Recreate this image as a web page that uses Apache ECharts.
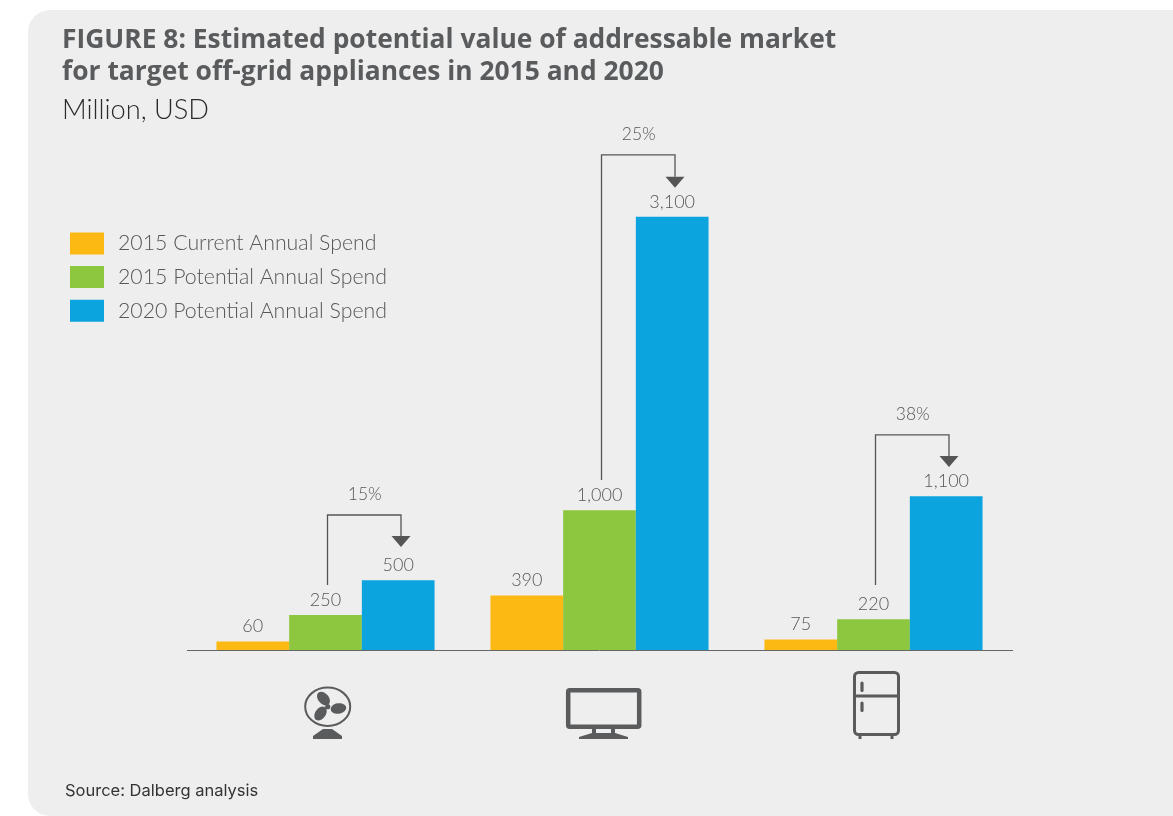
<!DOCTYPE html>
<html><head><meta charset="utf-8">
<style>html,body{margin:0;padding:0;background:#fff}#c{width:1173px;height:816px}</style>
<script src="https://cdn.jsdelivr.net/npm/echarts@6/dist/echarts.min.js"></script>
</head><body><div id="c"></div>
<script>
var categories = ['Fan', 'Television', 'Refrigerator'];
var current2015 = [60, 390, 75];
var potential2015 = [250, 1000, 220];
var potential2020 = [500, 3100, 1100];
var growthLabels = ['15%', '25%', '38%'];
var stemValues = [465, 1217, 465];
var bracketTopValues = [966, 3543, 1539];
var arrowTipValues = [737, 3307, 1310];
var seriesNames = ['2015 Current Annual Spend', '2015 Potential Annual Spend', '2020 Potential Annual Spend'];
var colors = ['#fdb913', '#8dc63f', '#0ca4de'];
var INK = '#5a5b5d';
var FONT = 'Lato';
var LABEL = '#575757';

function bar(name, data, color) {
  return {
    name: name, type: 'bar', data: data, barWidth: 72.7, barGap: 0, itemStyle: {color: color},
    label: {show: true, position: 'top', distance: 6, color: LABEL, fontFamily: FONT, fontWeight: 300, fontSize: 18,
      formatter: function (p) { return p.value.toLocaleString('en-US'); }}
  };
}
function renderBracket(params, api) {
  var i = api.value(0);
  var cx = api.coord([i, 0])[0];
  var stem = api.coord([i, api.value(1)])[1];
  var top = api.coord([i, api.value(2)])[1];
  var tip = api.coord([i, api.value(3)])[1];
  var arrowTop = tip - 11;
  var l = cx + 2, r = cx + 75.5;
  var st = {stroke: '#555', lineWidth: 1.3, fill: null};
  return {type: 'group', silent: true, children: [
    {type: 'polyline', shape: {points: [[l, stem], [l, top], [r, top], [r, arrowTop]]}, style: st},
    {type: 'polygon', shape: {points: [[r - 9.5, arrowTop], [r + 9.5, arrowTop], [r, tip]]}, style: {fill: '#555'}},
    {type: 'text', x: (l + r) / 2 + 0.5, y: top - 21, style: {text: growthLabels[i], fill: LABEL, font: '300 17.5px ' + FONT, align: 'center', verticalAlign: 'middle'}}
  ]};
}
function line(x1, y1, x2, y2, w) {
  return {type: 'line', shape: {x1: x1, y1: y1, x2: x2, y2: y2}, style: {stroke: INK, lineWidth: w, lineCap: 'round'}};
}
function blade(x, y, rot) {
  return {type: 'ellipse', x: x, y: y, rotation: rot, shape: {cx: 0, cy: 0, rx: 7.8, ry: 5.2}, style: {fill: INK}};
}
var fan = [
  {type: 'ellipse', shape: {cx: 327.7, cy: 706.7, rx: 22.5, ry: 19.2}, style: {fill: null, stroke: INK, lineWidth: 2}},
  blade(323.5, 698.5, -0.85), blade(338.5, 708.5, 0.15), blade(320.5, 713.5, 0.95),
  {type: 'circle', shape: {cx: 327.7, cy: 706.7, r: 2.6}, style: {fill: INK}},
  {type: 'polygon', shape: {points: [[323, 729], [332, 729], [342, 736], [342, 739], [313, 739], [313, 736]]}, style: {fill: INK}}
];
var tv = [
  {type: 'rect', shape: {x: 568.2, y: 690.2, width: 71, height: 36.5, r: 1.5}, style: {fill: null, stroke: INK, lineWidth: 4.5}},
  {type: 'rect', shape: {x: 592, y: 729, width: 4, height: 5}, style: {fill: INK}},
  {type: 'rect', shape: {x: 611, y: 729, width: 4, height: 5}, style: {fill: INK}},
  {type: 'polygon', shape: {points: [[592, 733], [615, 733], [628, 737], [628, 739], [579, 739], [579, 737]]}, style: {fill: INK}}
];
var fridge = [
  {type: 'rect', shape: {x: 854.5, y: 672.5, width: 44, height: 62, r: 4}, style: {fill: null, stroke: INK, lineWidth: 3}},
  line(855, 696, 898, 696, 3),
  line(862, 683, 862, 690.5, 3.2), line(862, 703, 862, 710.5, 3.2),
  {type: 'rect', shape: {x: 858.5, y: 735, width: 3, height: 4}, style: {fill: INK}},
  {type: 'rect', shape: {x: 890.5, y: 735, width: 3, height: 4}, style: {fill: INK}}
];
function text(x, y, s, font, fill) {
  return {type: 'text', x: x, y: y, style: {text: s, font: font, fill: fill, verticalAlign: 'middle'}};
}
var chart = echarts.init(document.getElementById('c'), null, {renderer: 'canvas'});
chart.setOption({
  animation: false,
  backgroundColor: '#ffffff',
  grid: {left: 188.5, width: 822, top: 91, height: 559},
  legend: {
    left: 70, top: 232.5, padding: 0, orient: 'vertical', itemWidth: 34, itemHeight: 22, itemGap: 11.6,
    icon: 'rect', selectedMode: false, data: seriesNames,
    textStyle: {color: LABEL, fontFamily: FONT, fontWeight: 300, fontSize: 21.3, padding: [0, 0, 0, 9]}
  },
  xAxis: {type: 'category', data: categories, axisTick: {show: false}, axisLabel: {show: false},
    axisLine: {lineStyle: {color: '#666', width: 1}}},
  yAxis: {type: 'value', min: 0, max: 4000, show: false, splitLine: {show: false}},
  graphic: [
    {type: 'rect', z: -10, shape: {x: 28, y: 10, width: 1200, height: 806, r: 22}, style: {fill: '#eeeeee'}},
    text(62, 40, 'FIGURE 8: Estimated potential value of addressable market', 'bold 26.4px "Open Sans"', INK),
    text(62, 72, 'for target off-grid appliances in 2015 and 2020', 'bold 26.4px "Open Sans"', INK),
    text(62, 110.5, 'Million, USD', '300 27.2px ' + FONT, '#2b2b2b'),
    text(65, 791, 'Source: Dalberg analysis', '16.5px Inter', '#333'),
    {type: 'line', shape: {x1: 1010, y1: 650.5, x2: 1013, y2: 650.5}, style: {stroke: '#666', lineWidth: 1}},
    {type: 'line', shape: {x1: 187, y1: 650.5, x2: 189, y2: 650.5}, style: {stroke: '#666', lineWidth: 1}},
    {type: 'group', children: fan}, {type: 'group', children: tv}, {type: 'group', children: fridge}
  ],
  series: [
    bar(seriesNames[0], current2015, colors[0]),
    bar(seriesNames[1], potential2015, colors[1]),
    bar(seriesNames[2], potential2020, colors[2]),
    {type: 'custom', renderItem: renderBracket, silent: true, z: 5,
      data: categories.map(function (c, i) { return [i, stemValues[i], bracketTopValues[i], arrowTipValues[i]]; }),
      encode: {x: 0, y: 1}}
  ]
});
</script></body></html>
